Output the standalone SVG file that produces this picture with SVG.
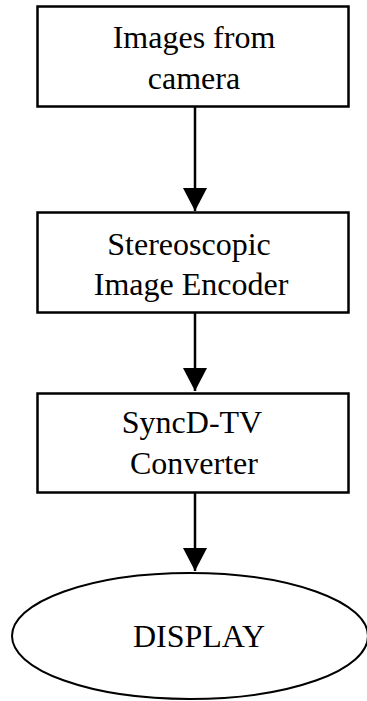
<svg xmlns="http://www.w3.org/2000/svg" width="367" height="701" viewBox="0 0 367 701">
<style>
.box{fill:#fff;stroke:#000;stroke-width:2.5}
.t{font-family:"Liberation Serif","Times New Roman",serif;font-size:32px;fill:#000;text-anchor:middle}
.c{stroke:#000;stroke-width:2.5;fill:none}
</style>
<defs>
<marker id="ah" markerUnits="userSpaceOnUse" markerWidth="24" markerHeight="24" refX="23" refY="12" orient="auto" viewBox="0 0 24 24">
<path d="M0,0 L23,12 L0,24 Z" fill="#000"/>
</marker>
</defs>
<rect width="367" height="701" fill="#fff"/>
<g id="connectors">
<line class="c" x1="195" y1="107" x2="195" y2="211" marker-end="url(#ah)"/>
<line class="c" x1="195" y1="313" x2="195" y2="391" marker-end="url(#ah)"/>
<line class="c" x1="195" y1="493" x2="195" y2="571" marker-end="url(#ah)"/>
</g>
<g id="n1">
<rect class="box" x="37.5" y="6.5" width="311" height="100"/>
<text class="t" x="194" y="48">Images from</text>
<text class="t" x="194" y="89">camera</text>
</g>
<g id="n2">
<rect class="box" x="37.5" y="212.5" width="311" height="100"/>
<text class="t" x="189" y="255">Stereoscopic</text>
<text class="t" x="191" y="295">Image Encoder</text>
</g>
<g id="n3">
<rect class="box" x="37.5" y="393.5" width="311" height="99"/>
<text class="t" x="192" y="433">SyncD-TV</text>
<text class="t" x="194" y="474">Converter</text>
</g>
<g id="n4">
<ellipse cx="190" cy="636" rx="178" ry="63" fill="#fff" stroke="#000" stroke-width="2"/>
<text class="t" x="199" y="647">DISPLAY</text>
</g>
</svg>
